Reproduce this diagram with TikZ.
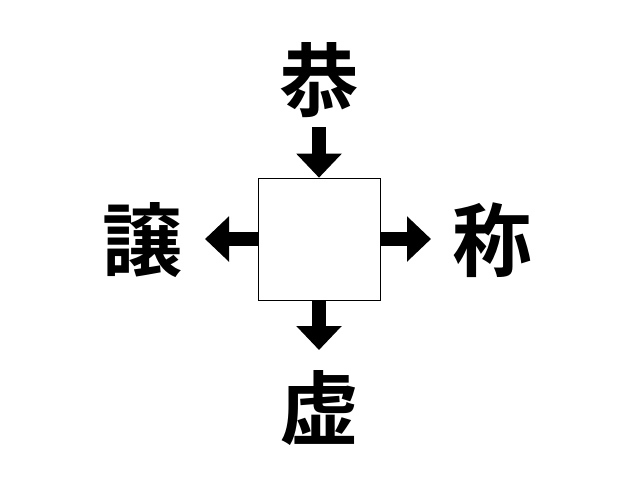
\documentclass[tikz,border=0pt]{standalone}
\usepackage{fontspec}
\newfontfamily\cjk{Noto Sans CJK JP Bold}
\usetikzlibrary{arrows.meta}
\begin{document}
\begin{tikzpicture}[x=1pt,y=-1pt,
  ch/.style={font=\cjk\fontsize{80}{80}\selectfont, inner sep=0pt},
  blk/.style={line width=14pt, -{Triangle[length={24pt 0 0},width={44pt 0}]}}]
\useasboundingbox (0,0) rectangle (640,480);
\node[draw, line width=0.6pt, minimum width=122pt, minimum height=122pt, inner sep=0pt] (box) at (319,239) {};
\node[ch] (t) at (319,80) {恭};
\node[ch] (l) at (142,240) {譲};
\node[ch] (r) at (492,240) {称};
\node[ch] (b) at (319,408) {虚};
\coordinate (ta) at (319,127);
\draw[blk] (ta) -- (box.north);
\draw[blk] (box.west) -- (205,239) coordinate (la);
\draw[blk] (box.east) -- (431,239) coordinate (ra);
\draw[blk] (box.south) -- (319,350) coordinate (ba);
\end{tikzpicture}
\end{document}
